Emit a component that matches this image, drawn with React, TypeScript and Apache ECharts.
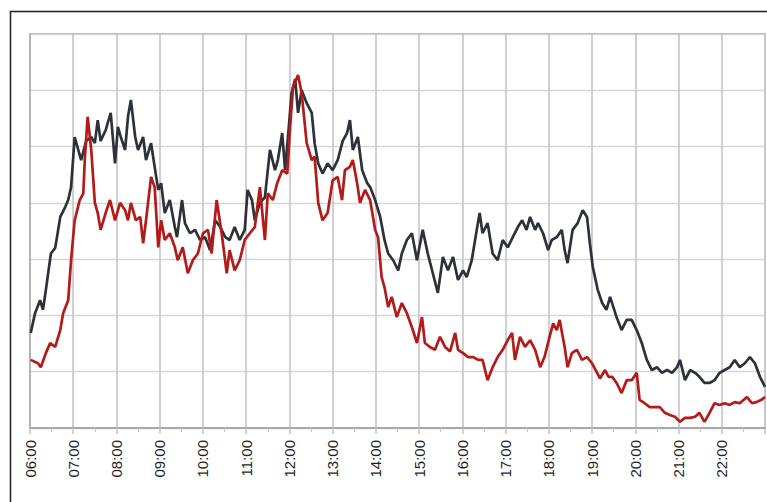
import React, { useEffect, useRef } from "react";
import * as echarts from "echarts";

// minutes after 06:00
const darkMinutes = [1,7,14,18,22,29,35,42,49,53,57,62,67,71,78,85,90,94,98,105,112,118,122,126,132,136,140,146,150,157,161,168,173,178,182,187,194,201,204,211,215,222,229,236,243,250,257,264,271,277,284,291,298,302,308,312,319,326,333,340,344,350,354,358,363,368,372,377,384,391,395,400,406,413,420,427,434,440,444,448,455,461,468,472,479,486,492,497,504,511,516,523,530,537,545,552,559,566,573,580,587,594,601,606,613,620,624,628,635,642,649,656,663,670,677,683,689,694,701,705,712,719,724,731,738,742,746,753,760,767,773,777,781,788,794,800,805,814,821,828,835,842,849,856,863,870,877,884,891,898,902,909,916,923,929,936,943,950,957,964,971,978,985,992,999,1006,1013,1020];
const darkValues = [1.69,2.04,2.27,2.1,2.45,3.1,3.2,3.75,3.93,4.05,4.28,5.17,4.94,4.76,5.1,5.17,5.06,5.47,5.1,5.29,5.6,4.7,5.35,5.17,4.94,5.53,5.83,5.17,4.94,5.17,4.76,5.06,4.64,4.23,4.35,3.82,4.05,3.57,3.39,4.05,3.64,3.46,3.52,3.34,3.39,3.16,3.69,3.57,3.39,3.34,3.57,3.34,3.52,4.23,4.05,3.69,4.0,4.1,4.94,4.58,4.76,5.24,4.58,5.17,5.95,6.2,5.6,6.0,5.77,5.6,5.06,4.7,4.52,4.7,4.58,4.76,5.1,5.24,5.47,4.94,5.17,4.58,4.35,4.28,4.05,3.75,3.34,3.1,2.98,2.8,3.1,3.34,3.46,2.98,3.52,3.1,2.75,2.4,3.04,2.8,3.04,2.63,2.8,2.68,2.98,3.52,3.82,3.46,3.64,3.1,2.98,3.34,3.21,3.39,3.57,3.69,3.52,3.75,3.52,3.64,3.46,3.16,3.34,3.39,3.52,3.16,2.93,3.52,3.64,3.87,3.75,3.28,2.86,2.45,2.22,2.1,2.33,1.97,1.74,1.92,1.92,1.74,1.51,1.21,1.03,1.08,0.98,1.03,0.98,1.08,1.21,0.85,1.03,0.98,0.91,0.8,0.8,0.85,0.98,1.03,1.08,1.21,1.08,1.15,1.26,1.15,0.91,0.73];

const redMinutes = [1,11,15,22,28,35,42,46,53,57,62,69,74,76,80,85,90,94,98,105,111,118,125,132,136,140,147,153,157,161,168,173,178,182,187,194,201,205,212,219,226,233,240,247,252,259,266,273,277,284,291,298,305,312,319,326,330,337,343,350,357,361,365,372,377,384,391,395,400,406,413,420,427,433,437,444,448,454,458,465,472,479,483,488,492,497,502,509,516,523,530,537,544,548,555,562,569,576,583,590,594,601,608,615,622,628,635,642,649,656,663,669,673,680,687,694,701,708,714,721,726,731,735,742,746,752,759,766,773,780,787,791,798,803,808,814,821,828,835,842,846,853,860,867,874,881,888,895,902,909,916,923,929,936,943,950,957,964,971,978,985,995,1002,1008,1015,1020];
const redValues = [1.21,1.15,1.08,1.33,1.51,1.44,1.74,2.04,2.27,2.98,3.69,4.05,4.17,4.76,5.53,4.94,4.0,3.82,3.52,3.82,4.05,3.69,4.0,3.87,3.69,4.0,3.69,3.75,3.28,3.69,4.46,4.28,3.21,3.69,3.34,3.46,3.21,2.98,3.21,2.75,2.98,3.1,3.46,3.52,3.1,4.05,3.46,2.75,3.16,2.8,2.98,3.34,3.46,3.57,4.28,3.34,4.17,4.05,4.35,4.58,4.52,5.35,6.05,6.27,5.95,5.06,4.76,4.82,4.0,3.69,3.82,4.4,4.46,4.05,4.58,4.64,4.76,4.35,4.0,4.23,4.05,3.52,3.39,2.68,2.5,2.15,2.33,1.97,2.22,2.04,1.79,1.51,1.97,1.51,1.44,1.39,1.62,1.44,1.36,1.69,1.39,1.33,1.26,1.26,1.21,1.21,0.85,1.08,1.26,1.39,1.56,1.69,1.21,1.62,1.44,1.56,1.39,1.08,1.26,1.62,1.86,1.74,1.92,1.44,1.08,1.33,1.39,1.21,1.26,1.15,0.98,0.88,1.03,0.91,0.91,0.8,0.62,0.85,0.85,0.98,0.5,0.44,0.37,0.37,0.37,0.27,0.23,0.2,0.11,0.18,0.18,0.2,0.27,0.11,0.27,0.44,0.41,0.44,0.41,0.46,0.44,0.55,0.44,0.46,0.5,0.55];

const yTicks = [0, 1, 2, 3, 4, 5, 6, 7];
const hourStart = 6;

function pairs(ts: number[], vs: number[]) {
  return ts.map((t, i) => [t, vs[i]]);
}

export default function App() {
  const ref = useRef<HTMLDivElement>(null);
  useEffect(() => {
    document.body.style.margin = "0";
    const chart = echarts.init(ref.current!, undefined, { renderer: "svg" });
    chart.setOption({
      animation: false,
      backgroundColor: "#ffffff",
      grid: {
        left: 30,
        top: 34,
        right: 2,
        bottom: 74,
        show: true,
        borderColor: "#b4b4b4",
        borderWidth: 2,
        backgroundColor: "transparent",
      },
      xAxis: {
        type: "value",
        min: 0,
        max: 1020,
        interval: 60,
        axisLine: { show: true, lineStyle: { color: "#a8a8a8", width: 2 } },
        axisTick: { show: true, length: 6, lineStyle: { color: "#c4c4c4", width: 1.5 } },
        minorTick: { show: true, splitNumber: 2, length: 4, lineStyle: { color: "#c4c4c4" } },
        splitLine: { show: true, lineStyle: { color: "#cbcbd0", width: 1.8 } },
        axisLabel: {
          rotate: 90,
          showMaxLabel: false,
          margin: 12,
          fontSize: 15,
          color: "#1e1e1e",
          fontFamily: "Liberation Sans, Arial, sans-serif",
          formatter: (v: number) => {
            const h = hourStart + Math.round(v / 60);
            return (h < 10 ? "0" + h : "" + h) + ":00";
          },
        },
      },
      yAxis: {
        type: "value",
        min: yTicks[0],
        max: yTicks[yTicks.length - 1],
        interval: 1,
        axisLabel: { show: false },
        axisTick: { show: false },
        axisLine: { show: true, lineStyle: { color: "#b4b4b4", width: 2 } },
        splitLine: { show: true, lineStyle: { color: "#d6d6da", width: 1.4 } },
      },
      graphic: [
        {
          type: "polyline",
          shape: { points: [[10.5, 520], [10.5, 11.5], [800, 11.5]] },
          style: { stroke: "#1e1e1e", lineWidth: 1.5, fill: "none" },
          silent: true,
        },
      ],
      series: [
        {
          type: "line",
          name: "dark",
          data: pairs(darkMinutes, darkValues),
          showSymbol: false,
          lineStyle: { color: "#2d3139", width: 2.7 },
          z: 3,
        },
        {
          type: "line",
          name: "red",
          data: pairs(redMinutes, redValues),
          showSymbol: false,
          lineStyle: { color: "#b41a17", width: 2.7 },
          z: 4,
        },
      ],
    });
    return () => chart.dispose();
  }, []);
  return <div ref={ref} style={{ width: 767, height: 502 }} />;
}
